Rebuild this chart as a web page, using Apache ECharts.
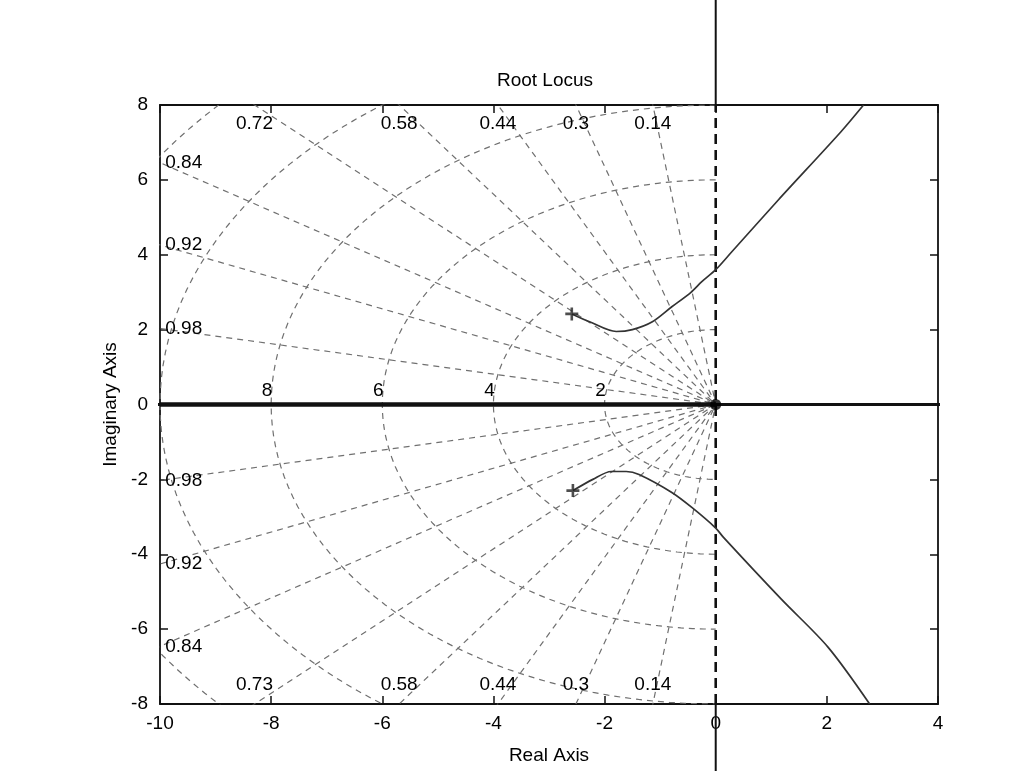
<!DOCTYPE html>
<html>
<head>
<meta charset="utf-8">
<script src="https://cdn.jsdelivr.net/npm/echarts/dist/echarts.min.js"></script>
<style>
html,body{margin:0;padding:0;background:#fff;}
#c{width:1029px;height:771px;}
</style>
</head>
<body>
<div id="c"></div>
<script>
// ---- data ----
const zetaValues = [0.14, 0.3, 0.44, 0.58, 0.72, 0.84, 0.92, 0.98];
const zetaLabelsUpper = ['0.14', '0.3', '0.44', '0.58', '0.72', '0.84', '0.92', '0.98'];
const zetaLabelsLower = ['0.14', '0.3', '0.44', '0.58', '0.73', '0.84', '0.92', '0.98'];
const wnValues = [2, 4, 6, 8, 10, 12];
const wnLabels = ['2', '4', '6', '8'];

// root locus branches (real, imaginary)
const upperBranchX = [-2.59, -2.27, -1.79, -1.5, -1.14, -0.79, -0.45, -0.25, 0, 0.29, 1.13, 2.25, 2.66];
const upperBranchY = [2.42, 2.21, 1.95, 2.0, 2.21, 2.61, 2.99, 3.28, 3.6, 4.08, 5.47, 7.28, 8.0];
const lowerBranchX = [-2.57, -2.21, -1.88, -1.61, -1.38, -0.79, -0.43, 0, 0.14, 1.18, 2.02, 2.77];
const lowerBranchY = [-2.3, -2.0, -1.79, -1.79, -1.87, -2.35, -2.75, -3.3, -3.55, -5.2, -6.48, -8.0];
const realBranchX = [0, -10];
const realBranchY = [0, 0];
const poleX = [0];
const poleY = [0];
const startX = [-2.59, -2.57];
const startY = [2.42, -2.3];

// axis range
const xMin = -10, xMax = 4, xStep = 2;
const yMin = -8, yMax = 8, yStep = 2;

const FONT = 'Liberation Sans, Arial, sans-serif';
const INK = '#000';
const GRIDC = '#707070';

const zip = (a, b) => a.map((v, i) => [v, b[i]]);

const series = [];

// natural frequency semicircles (sgrid)
wnValues.forEach(wn => {
  const pts = [];
  for (let a = 90; a <= 270; a += 2) {
    const r = a * Math.PI / 180;
    pts.push([wn * Math.cos(r), wn * Math.sin(r)]);
  }
  series.push({
    type: 'line', data: pts, showSymbol: false, silent: true, clip: true,
    lineStyle: { color: GRIDC, width: 1.2, type: [6, 5] }, z: 1
  });
});

// damping ratio rays (sgrid)
const R = 30;
zetaValues.forEach(z => {
  const s = Math.sqrt(1 - z * z);
  series.push({
    type: 'line', data: [[-R * z, R * s], [0, 0], [-R * z, -R * s]],
    showSymbol: false, silent: true, clip: true,
    lineStyle: { color: GRIDC, width: 1.2, type: [6, 5] }, z: 1
  });
});

// zeta = 0 line (imaginary axis inside the plot)
series.push({
  type: 'line', data: [[0, yMin], [0, yMax]], showSymbol: false, silent: true,
  lineStyle: { color: '#111', width: 2.6, type: [10, 6] }, z: 3
});

// overlaid s-plane axes extending beyond the box
series.push({
  type: 'line', data: [[-13, 0], [5.8, 0]], showSymbol: false, silent: true, clip: false,
  lineStyle: { color: '#111', width: 2.8 }, z: 4
});
series.push({
  type: 'line', data: [[0, yMax], [0, 11]], showSymbol: false, silent: true, clip: false,
  lineStyle: { color: '#111', width: 2 }, z: 4
});
series.push({
  type: 'line', data: [[0, yMin], [0, -10]], showSymbol: false, silent: true, clip: false,
  lineStyle: { color: '#111', width: 2 }, z: 4
});

// locus branches
series.push({
  type: 'line', data: zip(upperBranchX, upperBranchY), showSymbol: false, smooth: 0.3,
  lineStyle: { color: '#333', width: 1.7 }, z: 5
});
series.push({
  type: 'line', data: zip(lowerBranchX, lowerBranchY), showSymbol: false, smooth: 0.3,
  lineStyle: { color: '#333', width: 1.7 }, z: 5
});
series.push({
  type: 'line', data: zip(realBranchX, realBranchY), showSymbol: false,
  lineStyle: { color: '#111', width: 4.5 }, z: 5
});

// markers
series.push({
  type: 'scatter', data: zip(startX, startY), symbol: 'path://M0,4H10V6H0Z M4,0H6V10H4Z',
  symbolSize: 13, itemStyle: { color: '#222' }, z: 6
});
series.push({
  type: 'scatter', data: zip(poleX, poleY), symbol: 'circle',
  symbolSize: 11, itemStyle: { color: '#000' }, z: 6
});

// zeta labels at the box edge
const lblStyle = { fontSize: 19, fontFamily: FONT, color: '#000', textBorderWidth: 0 };
const zetaLabelData = [];
zetaValues.forEach((z, i) => {
  const s = Math.sqrt(1 - z * z);
  const tV = yMax / s, tH = -xMin / z;
  [1, -1].forEach(sign => {
    const text = sign > 0 ? zetaLabelsUpper[i] : zetaLabelsLower[i];
    if (tV < tH) {
      zetaLabelData.push({
        value: [-z * tV, sign * yMax],
        label: Object.assign({ show: true, formatter: text, position: sign > 0 ? 'bottom' : 'top', distance: 9 }, lblStyle)
      });
    } else {
      zetaLabelData.push({
        value: [xMin, sign * s * tH],
        label: Object.assign({ show: true, formatter: text, position: 'right', distance: 5 }, lblStyle)
      });
    }
  });
});
series.push({
  type: 'scatter', data: zetaLabelData, symbolSize: 0.5, clip: false, silent: true,
  itemStyle: { color: '#000', opacity: 1 }, z: 7
});

// wn labels on the real axis
series.push({
  type: 'scatter', silent: true, clip: false, symbolSize: 0.5,
  itemStyle: { color: '#000', opacity: 1 },
  data: wnLabels.map(t => ({
    value: [-Number(t), 0],
    label: Object.assign({ show: true, formatter: t, position: 'top', distance: 4, offset: [-4, 0] }, lblStyle)
  })), z: 7
});

const axisBase = {
  type: 'value',
  axisLine: { show: true, onZero: false, lineStyle: { color: '#111', width: 1.8 } },
  axisTick: { show: true, inside: true, length: 8, lineStyle: { color: '#111', width: 1.5 } },
  splitLine: { show: false },
};

const option = {
  backgroundColor: '#fff',
  animation: false,
  title: {
    text: 'Root Locus', left: 540, top: 66, textAlign: 'center',
    textStyle: { fontSize: 19, fontWeight: 'normal', fontFamily: FONT, color: INK }
  },
  grid: { left: 160, right: 91, top: 105, bottom: 67, containLabel: false },
  xAxis: [
    Object.assign({}, axisBase, {
      min: xMin, max: xMax, interval: xStep, position: 'bottom',
      axisLabel: { fontSize: 19, fontFamily: FONT, color: INK, margin: 10 },
      name: 'Real Axis', nameLocation: 'middle', nameGap: 42,
      nameTextStyle: { fontSize: 19, fontFamily: FONT, color: INK }
    }),
    Object.assign({}, axisBase, {
      min: xMin, max: xMax, interval: xStep, position: 'top',
      axisLabel: { show: false }
    })
  ],
  yAxis: [
    Object.assign({}, axisBase, {
      min: yMin, max: yMax, interval: yStep, position: 'left',
      axisLabel: { fontSize: 19, fontFamily: FONT, color: INK, margin: 12 },
      name: 'Imaginary Axis', nameLocation: 'middle', nameGap: 36, nameRotate: 90,
      nameTextStyle: { fontSize: 19, fontFamily: FONT, color: INK }
    }),
    Object.assign({}, axisBase, {
      min: yMin, max: yMax, interval: yStep, position: 'right',
      axisLabel: { show: false }
    })
  ],
  series: series
};

const chart = echarts.init(document.getElementById('c'), null, { renderer: 'canvas' });
chart.setOption(option);
</script>
</body>
</html>
